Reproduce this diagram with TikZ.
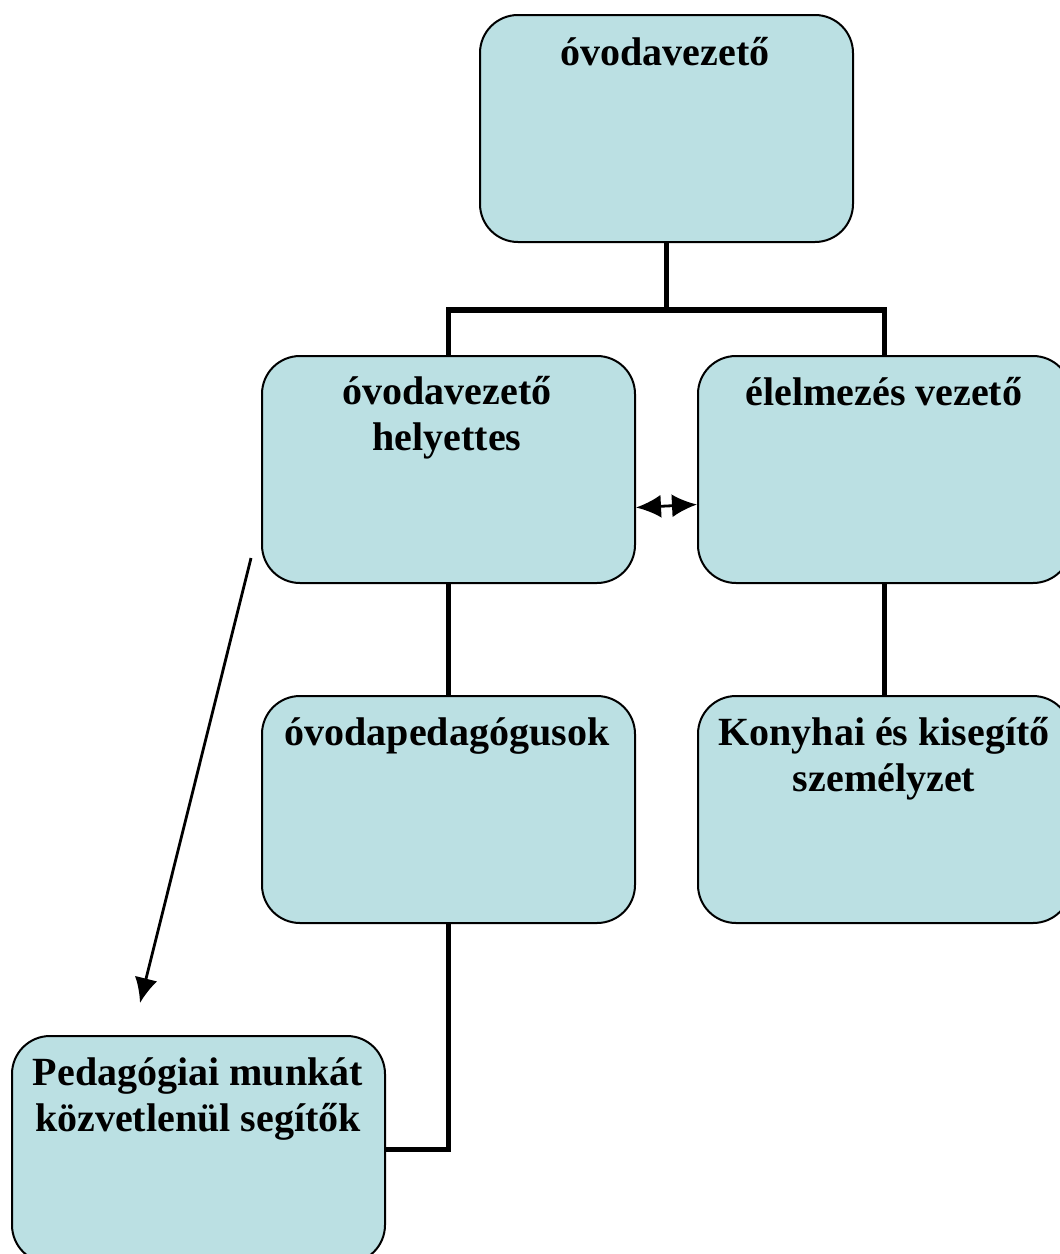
\documentclass[tikz,border=0pt]{standalone}
\usepackage{fontspec}
\setmainfont{Liberation Serif}
\usetikzlibrary{arrows.meta}
\definecolor{boxfill}{HTML}{BBE0E3}
\begin{document}
\begin{tikzpicture}[x=1pt,y=-1pt,
  box/.style={draw=black, line width=2pt, fill=boxfill, rounded corners=38pt,
    minimum width=373pt, minimum height=227pt, inner sep=0pt, anchor=north west},
  lbl/.style={font=\bfseries\fontsize{40}{46}\selectfont, align=center, anchor=base, inner sep=0pt},
  conn/.style={line width=5.5pt},
  thinarrow/.style={line width=2.8pt},
  tipA/.tip={Latex[length=25pt,width=23pt]}]
\useasboundingbox (0,0) rectangle (1060,1254);
% boxes
\node[box] (top) at (479,14) {};
\node[box] (hely) at (261,355) {};
\node[box] (elel) at (697,355) {};
\node[box] (ped) at (261,695) {};
\node[box] (kony) at (697,695) {};
\node[box] (seg) at (11,1035) {};
% texts (anchor base = baseline of the last line)
\node[lbl] (ttop) at (665,65) {óvodavezető};
\node[lbl] (thely) at (447,450) {óvodavezető\\helyettes};
\node[lbl] (telel) at (884,405) {élelmezés vezető};
\node[lbl] (tped) at (447,745) {óvodapedagógusok};
\node[lbl] (tkony) at (884,791) {Konyhai és kisegítő\\személyzet};
\node[lbl] (tseg) at (198,1131) {Pedagógiai munkát\\közvetlenül segítők};
% connectors
\coordinate (j) at (top.south |- 0,310);
\draw[conn] (top.south) -- (j);
\draw[conn] (j) -| (hely.north);
\draw[conn] (j) -| (elel.north);
\draw[conn] (hely.south) -- (ped.north);
\draw[conn] (elel.south) -- (kony.north);
\draw[conn] (ped.south) |- (seg.east);
% arrows
\draw[thinarrow, tipA-tipA]
  ([yshift=-38pt]hely.east) -- ([yshift=-35pt]elel.west);
\coordinate (as) at (251,558);
\coordinate (ae) at (140,1003);
\draw[thinarrow, -tipA] (as) -- (ae);
\end{tikzpicture}
\end{document}
